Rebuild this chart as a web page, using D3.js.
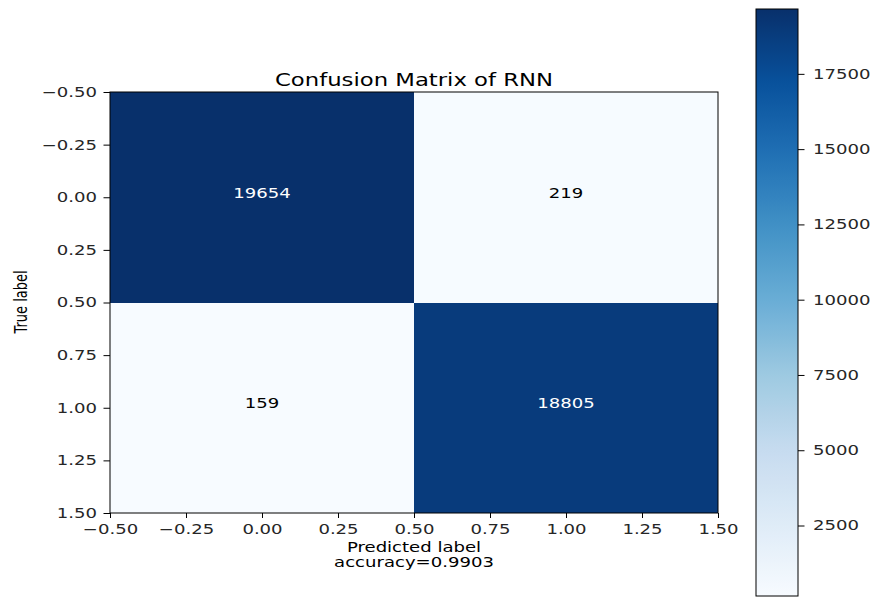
<!DOCTYPE html>
<html>
<head>
<meta charset="utf-8">
<script src="https://cdn.jsdelivr.net/npm/d3@7"></script>
<style>
  html, body { margin: 0; padding: 0; background: #fff; }
  svg { display: block; font-family: "DejaVu Sans", sans-serif; }
</style>
</head>
<body>
<svg id="chart" width="873" height="597"></svg>
<script>
// Confusion matrix counts (rows: true label, cols: predicted label)
const classes = [0, 1];
const matrix = [
  [19654, 219],
  [159, 18805]
];
const accuracy = "0.9903";
const axisTicks = [-0.5, -0.25, 0, 0.25, 0.5, 0.75, 1, 1.25, 1.5];
const colorbarTicks = [2500, 5000, 7500, 10000, 12500, 15000, 17500];
// matplotlib "Blues" colormap anchors
const bluesAnchors = ["#f7fbff", "#deebf7", "#c6dbef", "#9ecae1", "#6baed6",
                      "#4292c6", "#2171b5", "#08519c", "#08306b"];

const W = 873, H = 597;
const sx = 1.3;            // horizontal glyph stretch used for all text
const plot = { left: 110, right: 718, top: 92, bottom: 513 };
const cbar = { left: 756, right: 798, top: 9, bottom: 596 };

const svg = d3.select("#chart");

const values = matrix.flat();
const vmin = d3.min(values), vmax = d3.max(values);

const blues = d3.scaleLinear()
  .domain(d3.range(bluesAnchors.length).map(i => i / (bluesAnchors.length - 1)))
  .range(bluesAnchors)
  .interpolate(d3.interpolateRgb)
  .clamp(true);
const norm = d3.scaleLinear().domain([vmin, vmax]).range([0, 1]);
const color = v => blues(norm(v));

const x = d3.scaleLinear().domain([-0.5, 1.5]).range([plot.left, plot.right]);
const y = d3.scaleLinear().domain([-0.5, 1.5]).range([plot.top, plot.bottom]);

// Heatmap cells
const cells = [];
matrix.forEach((row, i) => row.forEach((v, j) => cells.push({ i, j, v })));

svg.append("g").selectAll("rect")
  .data(cells)
  .join("rect")
  .attr("x", d => x(d.j - 0.5))
  .attr("y", d => y(d.i - 0.5))
  .attr("width", d => x(d.j + 0.5) - x(d.j - 0.5))
  .attr("height", d => y(d.i + 0.5) - y(d.i - 0.5))
  .attr("fill", d => color(d.v))
  .attr("shape-rendering", "crispEdges");

// Cell annotations
const thresh = vmax / 2;
svg.append("g").selectAll("text")
  .data(cells)
  .join("text")
  .attr("transform", d => `translate(${x(d.j)},${y(d.i)}) scale(${sx},1)`)
  .attr("text-anchor", "middle")
  .attr("dy", "0.05em")
  .attr("font-size", 13.9)
  .attr("fill", d => d.v > thresh ? "#ffffff" : "#000000")
  .text(d => d.v);

const fmt2 = d3.format(".2f");

function styleAxis(g) {
  g.selectAll("path.domain").remove();
  g.selectAll(".tick line").attr("stroke", "#000").attr("stroke-width", 1);
  g.selectAll(".tick text").attr("font-size", 13.9).attr("fill", "#262626")
    .attr("font-family", "DejaVu Sans, sans-serif");
}

// Bottom axis
const gx = svg.append("g")
  .attr("transform", `translate(0,${plot.bottom})`)
  .call(d3.axisBottom(x).tickValues(axisTicks).tickFormat(fmt2).tickSize(5).tickPadding(6));
styleAxis(gx);
gx.selectAll(".tick text").attr("transform", `scale(${sx},1)`);

// Left axis
const gy = svg.append("g")
  .attr("transform", `translate(${plot.left},0)`)
  .call(d3.axisLeft(y).tickValues(axisTicks).tickFormat(fmt2).tickSize(6.5).tickPadding(3.5));
styleAxis(gy);
gy.selectAll(".tick text").attr("transform", `scale(${sx},1)`);

// Plot frame
svg.append("rect")
  .attr("x", plot.left).attr("y", plot.top)
  .attr("width", plot.right - plot.left).attr("height", plot.bottom - plot.top)
  .attr("fill", "none").attr("stroke", "#000").attr("stroke-width", 1);

// Title
svg.append("text")
  .attr("transform", `translate(${(plot.left + plot.right) / 2},86) scale(${sx},1)`)
  .attr("text-anchor", "middle")
  .attr("font-size", 17.5)
  .attr("fill", "#000")
  .text("Confusion Matrix of RNN");

// Axis labels
svg.append("text")
  .attr("transform", `translate(${(plot.left + plot.right) / 2},552) scale(${sx},1)`)
  .attr("text-anchor", "middle")
  .attr("font-size", 13.9)
  .text("Predicted label");
svg.append("text")
  .attr("transform", `translate(${(plot.left + plot.right) / 2},567) scale(${sx},1)`)
  .attr("text-anchor", "middle")
  .attr("font-size", 13.9)
  .text(`accuracy=${accuracy}`);
svg.append("text")
  .attr("transform", `translate(27,302) scale(${sx},1) rotate(-90)`)
  .attr("text-anchor", "middle")
  .attr("font-size", 13)
  .text("True label");

// Colorbar
const cy = d3.scaleLinear().domain([vmin, vmax]).range([cbar.bottom, cbar.top]);
const grad = svg.append("defs").append("linearGradient")
  .attr("id", "cbarGrad")
  .attr("x1", 0).attr("y1", 1).attr("x2", 0).attr("y2", 0);
grad.selectAll("stop")
  .data(d3.range(0, 1.0001, 0.02))
  .join("stop")
  .attr("offset", d => d)
  .attr("stop-color", d => blues(d));

svg.append("rect")
  .attr("x", cbar.left).attr("y", cbar.top)
  .attr("width", cbar.right - cbar.left).attr("height", cbar.bottom - cbar.top)
  .attr("fill", "url(#cbarGrad)")
  .attr("stroke", "#000").attr("stroke-width", 1);

const gc = svg.append("g")
  .attr("transform", `translate(${cbar.right},0)`)
  .call(d3.axisRight(cy).tickValues(colorbarTicks).tickFormat(d3.format("d")).tickSize(6.5).tickPadding(5));
styleAxis(gc);
gc.selectAll(".tick text").attr("transform", `scale(${sx},1)`);
</script>
</body>
</html>
